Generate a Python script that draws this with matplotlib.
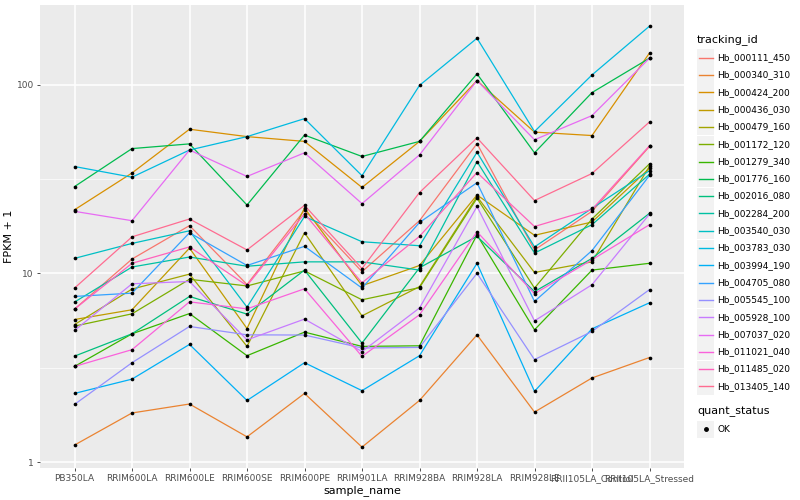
import numpy as np
import matplotlib.pyplot as plt
from matplotlib.lines import Line2D
from matplotlib.patches import Rectangle

samples = ['PB350LA', 'RRIM600LA', 'RRIM600LE', 'RRIM600SE', 'RRIM600PE', 'RRIM901LA',
           'RRIM928BA', 'RRIM928LA', 'RRIM928LE', 'RRII105LA_Control', 'RRII105LA_Stressed']

ids = ['Hb_000111_450', 'Hb_000340_310', 'Hb_000424_200', 'Hb_000436_030', 'Hb_000479_160',
       'Hb_001172_120', 'Hb_001279_340', 'Hb_001776_160', 'Hb_002016_080', 'Hb_002284_200',
       'Hb_003540_030', 'Hb_003783_030', 'Hb_003994_190', 'Hb_004705_080', 'Hb_005545_100',
       'Hb_005928_100', 'Hb_007037_020', 'Hb_011021_040', 'Hb_011485_020', 'Hb_013405_140']

colors = ['#F8766D', '#EA8331', '#D89000', '#C09B00', '#A3A500', '#7CAE00', '#39B600', '#00BB4E',
          '#00BF7D', '#00C1A3', '#00BFC4', '#00BAE0', '#00B0F6', '#35A2FF', '#9590FF', '#C77CFF',
          '#E76BF3', '#FA62DB', '#FF62BC', '#FF6C91']

# FPKM + 1 per gene, in sample order
fpkm = {
    'Hb_000111_450': [6.46, 11.9, 17.9, 8.72, 21.6, 10.2, 19.0, 48.7, 13.3, 21.3, 47.0],
    'Hb_000340_310': [1.23, 1.82, 2.03, 1.36, 2.31, 1.2, 2.12, 4.72, 1.84, 2.79, 3.58],
    'Hb_000424_200': [21.7, 34.0, 58.0, 53.0, 50.0, 28.5, 50.0, 105.0, 56.0, 53.7, 147.0],
    'Hb_000436_030': [5.69, 6.41, 13.6, 5.1, 22.2, 8.6, 11.0, 26.0, 15.9, 18.7, 36.0],
    'Hb_000479_160': [5.35, 8.25, 9.9, 4.1, 16.4, 5.95, 8.5, 25.5, 10.1, 11.5, 37.0],
    'Hb_001172_120': [5.25, 6.1, 9.3, 8.57, 10.3, 7.24, 8.4, 25.0, 8.35, 19.4, 38.0],
    'Hb_001279_340': [3.21, 4.78, 6.12, 3.66, 4.88, 4.1, 4.13, 16.0, 5.02, 10.4, 11.3],
    'Hb_001776_160': [28.8, 45.8, 48.5, 23.0, 54.0, 41.6, 50.0, 114.0, 43.5, 90.7, 138.0],
    'Hb_002016_080': [3.64, 4.78, 7.54, 6.08, 10.4, 4.27, 10.7, 15.7, 8.0, 12.0, 20.8],
    'Hb_002284_200': [7.04, 10.8, 12.2, 10.9, 11.5, 11.5, 10.4, 39.1, 12.8, 18.1, 33.5],
    'Hb_003540_030': [12.0, 14.4, 16.8, 6.62, 20.0, 14.7, 14.0, 43.8, 13.8, 22.1, 35.0],
    'Hb_003783_030': [36.8, 32.3, 45.0, 53.0, 66.0, 32.9, 99.0, 176.0, 56.4, 112.5, 204.0],
    'Hb_003994_190': [2.31, 2.75, 4.2, 2.12, 3.36, 2.39, 3.66, 11.3, 2.37, 5.08, 6.98],
    'Hb_004705_080': [7.54, 7.85, 16.4, 11.0, 13.9, 8.35, 18.6, 30.2, 7.1, 13.2, 33.0],
    'Hb_005545_100': [2.02, 3.36, 5.23, 4.72, 4.71, 4.02, 4.05, 10.0, 3.49, 4.92, 8.2],
    'Hb_005928_100': [4.98, 8.8, 9.05, 4.44, 5.72, 3.85, 6.55, 22.6, 5.6, 8.7, 20.6],
    'Hb_007037_020': [21.3, 19.0, 45.0, 32.6, 43.5, 23.4, 42.4, 105.0, 51.0, 68.5, 138.0],
    'Hb_011021_040': [3.21, 3.94, 7.06, 6.48, 8.28, 3.63, 6.03, 16.6, 7.8, 11.8, 18.1],
    'Hb_011485_020': [6.46, 11.3, 13.8, 8.6, 20.7, 8.9, 15.7, 34.2, 17.7, 21.8, 47.4],
    'Hb_013405_140': [8.35, 15.6, 19.4, 13.3, 22.9, 10.6, 26.8, 52.2, 24.3, 33.8, 63.4],
}

status = ['OK']

W, H = 800, 500
txt = '#4D4D4D'
fig = plt.figure(figsize=(8, 5), dpi=100)
ax = fig.add_axes([0.05, 0.064, 0.805, 0.926])
ax.set_facecolor('#EBEBEB')
ax.set_yscale('log')
ax.set_ylim(0.93, 264)
ax.set_xlim(-0.6, len(samples) - 0.4)

for y in [1, 10, 100]:
    ax.axhline(y, color='white', lw=1.1, zorder=0)
for y in [10 ** 0.5, 10 ** 1.5, 10 ** 2.5]:
    ax.axhline(y, color='white', lw=0.5, zorder=0)
for i in range(len(samples)):
    ax.axvline(i, color='white', lw=1.1, zorder=0)

x = np.arange(len(samples))
for gid, col in zip(ids, colors):
    ax.plot(x, fpkm[gid], color=col, lw=0.9, zorder=2)
    ax.scatter(x, fpkm[gid], color='black', s=7, zorder=3, linewidths=0)

for s in ax.spines.values():
    s.set_visible(False)
ax.minorticks_off()
ax.set_yticks([1, 10, 100])
ax.set_yticklabels(['1', '10', '100'])
ax.set_xticks(x)
ax.set_xticklabels(samples)
ax.tick_params(axis='both', colors='#333333', labelcolor=txt, labelsize=6.5, length=2.5, width=0.6, pad=2)
ax.set_xlabel('sample_name', fontsize=8, labelpad=1)
ax.set_ylabel('FPKM + 1', fontsize=8, labelpad=2)


# legends drawn by hand, ggplot style (pixel positions from the top-left)
def fx(px):
    return px / W


def fy(py):
    return 1 - py / H


def key_box(py):
    fig.patches.append(Rectangle((fx(697), fy(py + 8.5)), 17 / W, 17 / H,
                                 transform=fig.transFigure, facecolor='#F2F2F2',
                                 edgecolor='none'))


fig.text(fx(697), fy(40), 'tracking_id', fontsize=8, va='center', ha='left')
for i, (gid, col) in enumerate(zip(ids, colors)):
    py = 57.7 + i * 17.3
    key_box(py)
    fig.add_artist(Line2D([fx(698.5), fx(712.5)], [fy(py), fy(py)], color=col, lw=1,
                          transform=fig.transFigure))
    fig.text(fx(717), fy(py), gid, fontsize=6.5, va='center', ha='left')

fig.text(fx(697), fy(412), 'quant_status', fontsize=8, va='center', ha='left')
for i, st in enumerate(status):
    py = 429 + i * 17.3
    key_box(py)
    fig.add_artist(Line2D([fx(705.5)], [fy(py)], marker='o', color='black', lw=0,
                          markersize=2.5, transform=fig.transFigure))
    fig.text(fx(717), fy(py), st, fontsize=6.5, va='center', ha='left')

fig.savefig('out.png', dpi=100)
